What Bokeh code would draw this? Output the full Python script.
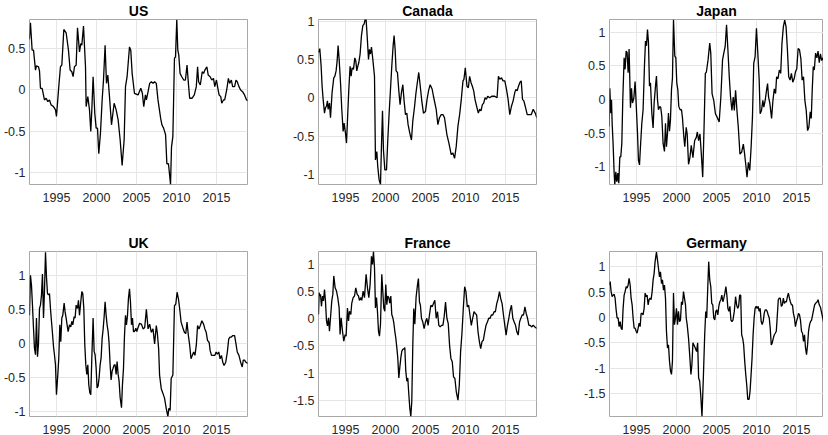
from bokeh.plotting import figure
from bokeh.layouts import column, row
from bokeh.models import FixedTicker, Range1d
from bokeh.embed import file_html
from bokeh.resources import INLINE

# ---------------- data (year, value) ----------------
us = [(1991.62,0.61),(1991.75,0.81),(1991.96,0.48),(1992.13,0.48),(1992.38,0.24),(1992.5,0.29),(1992.75,0.28),(1992.88,0.23),
      (1993.0,0.02),(1993.21,0.02),(1993.5,-0.12),(1993.71,-0.10),(1993.92,-0.14),(1994.13,-0.12),(1994.33,-0.18),(1994.63,-0.20),
      (1994.88,-0.24),(1995.0,-0.32),(1995.29,0.04),(1995.5,0.28),(1995.67,0.30),(1995.92,0.73),(1996.21,0.69),(1996.5,0.48),
      (1996.71,0.24),(1996.92,0.22),(1997.08,0.16),(1997.25,0.28),(1997.46,0.30),(1997.63,0.75),(1997.88,0.46),(1998.04,0.56),
      (1998.17,0.54),(1998.38,0.77),(1998.63,0.28),(1998.71,-0.20),(1998.92,-0.08),(1999.13,-0.24),(1999.29,-0.50),(1999.42,-0.24),
      (1999.58,0.16),(1999.79,-0.28),(1999.96,-0.46),(2000.13,-0.46),(2000.29,-0.77),(2000.5,-0.52),(2000.71,-0.12),(2000.88,0.12),
      (2001.08,0.54),(2001.25,0.08),(2001.42,0.18),(2001.63,-0.08),(2001.88,-0.42),(2002.21,-0.16),(2002.46,-0.24),(2002.71,-0.36),
      (2002.96,-0.60),(2003.21,-0.91),(2003.46,-0.60),(2003.63,0.04),(2003.83,0.16),(2004.13,0.52),(2004.29,0.48),(2004.46,0.20),
      (2004.75,-0.04),(2005.2,-0.06),(2005.54,0.02),(2005.74,-0.04),(2005.91,-0.20),(2006.12,-0.06),(2006.24,-0.12),(2006.45,-0.02),
      (2006.65,0.08),(2006.86,0.10),(2007.07,0.08),(2007.27,0.10),(2007.48,0.08),(2007.69,-0.12),(2008.02,-0.34),(2008.18,-0.42),
      (2008.39,-0.46),(2008.64,-0.54),(2008.8,-0.89),(2009.0,-0.89),(2009.26,-1.14),(2009.38,-0.69),(2009.55,-0.56),(2009.75,0.38),
      (2009.88,0.40),(2010.04,0.85),(2010.17,0.48),(2010.29,0.42),(2010.45,0.20),(2010.66,0.16),(2010.91,0.12),(2011.12,0.12),
      (2011.32,0.30),(2011.49,0.08),(2011.65,-0.10),(2011.94,-0.10),(2012.23,-0.06),(2012.48,0.04),(2012.64,0.28),(2012.77,0.10),
      (2012.98,0.06),(2013.22,0.22),(2013.39,0.20),(2013.55,0.24),(2013.8,0.28),(2013.97,0.18),(2014.21,0.16),(2014.42,0.12),
      (2014.63,0.14),(2014.79,0.04),(2015.0,0.12),(2015.21,0.00),(2015.33,-0.06),(2015.54,-0.08),(2015.66,-0.16),(2015.87,-0.12),
      (2016.03,-0.12),(2016.28,0.00),(2016.49,0.14),(2016.65,0.08),(2016.86,0.12),(2017.02,0.04),(2017.27,0.04),(2017.44,0.12),
      (2017.6,0.10),(2017.81,0.04),(2018.02,0.00),(2018.26,-0.02),(2018.51,-0.06),(2018.76,-0.12),(2018.92,-0.13)]

canada = [(1991.63,0.59),(1991.79,0.64),(1991.96,0.41),(1992.08,0.15),(1992.21,-0.02),(1992.38,-0.20),(1992.5,-0.13),(1992.63,-0.11),
      (1992.75,-0.04),(1992.83,-0.15),(1993.0,-0.07),(1993.13,-0.26),(1993.33,0.07),(1993.54,0.26),(1993.67,0.28),(1993.83,0.35),
      (1993.96,0.48),(1994.08,0.68),(1994.21,0.50),(1994.38,0.20),(1994.54,-0.15),(1994.71,-0.44),(1994.83,-0.33),(1995.0,-0.46),
      (1995.13,-0.59),(1995.29,-0.20),(1995.42,0.11),(1995.58,0.41),(1995.71,0.28),(1995.83,0.39),(1996.0,0.37),(1996.17,0.52),
      (1996.29,0.48),(1996.42,0.35),(1996.54,0.41),(1996.67,0.46),(1996.83,0.57),(1997.0,0.81),(1997.17,0.94),(1997.33,0.96),
      (1997.46,1.02),(1997.58,1.02),(1997.71,0.81),(1997.88,0.50),(1998.0,0.63),(1998.13,0.57),(1998.25,0.66),(1998.42,0.50),
      (1998.63,0.28),(1998.75,-0.81),(1998.92,-0.70),(1999.04,-0.90),(1999.21,-1.07),(1999.38,-1.13),(1999.5,-0.63),(1999.63,-0.17),
      (1999.75,-0.68),(1999.92,-0.94),(2000.13,-0.94),(2000.29,-0.55),(2000.46,-0.20),(2000.63,0.11),(2000.79,0.41),(2000.96,0.68),
      (2001.08,0.81),(2001.21,0.63),(2001.33,0.35),(2001.5,0.33),(2001.67,0.09),(2001.83,-0.09),(2002.0,0.07),(2002.17,0.17),
      (2002.33,-0.04),(2002.5,-0.22),(2002.67,-0.20),(2002.83,-0.35),(2003.04,-0.46),(2003.25,-0.55),(2003.42,-0.30),(2003.63,-0.12),
      (2003.8,0.05),(2003.96,0.18),(2004.16,0.33),(2004.35,0.15),(2004.55,-0.05),(2004.75,-0.20),(2005.0,-0.18),(2005.2,-0.02),
      (2005.4,0.10),(2005.59,0.17),(2005.84,0.11),(2006.0,0.02),(2006.34,-0.15),(2006.55,-0.35),(2006.75,-0.26),(2006.97,-0.22),
      (2007.18,-0.22),(2007.38,-0.26),(2007.68,-0.48),(2007.93,-0.59),(2008.22,-0.74),(2008.43,-0.72),(2008.64,-0.79),(2008.85,-0.63),
      (2009.06,-0.37),(2009.27,-0.22),(2009.48,-0.02),(2009.69,0.22),(2009.81,0.24),(2009.98,0.39),(2010.19,0.15),(2010.36,0.13),
      (2010.52,0.28),(2010.69,0.20),(2010.86,0.15),(2011.03,0.09),(2011.19,-0.02),(2011.44,-0.13),(2011.61,-0.20),(2011.78,-0.15),
      (2011.95,-0.17),(2012.11,-0.09),(2012.28,-0.07),(2012.45,0.0),(2012.62,-0.02),(2012.78,0.02),(2013.03,0.0),(2013.28,0.02),
      (2013.66,0.02),(2013.95,0.0),(2014.12,0.28),(2014.29,0.24),(2014.5,0.26),(2014.7,0.22),(2014.92,0.22),(2015.13,0.11),
      (2015.33,-0.02),(2015.54,-0.22),(2015.75,-0.11),(2015.96,-0.04),(2016.17,0.07),(2016.3,0.11),(2016.46,0.09),(2016.63,0.15),
      (2016.8,0.20),(2016.97,0.22),(2017.13,-0.02),(2017.3,-0.04),(2017.47,-0.11),(2017.72,-0.22),(2017.97,-0.22),(2018.22,-0.22),
      (2018.47,-0.15),(2018.72,-0.20),(2018.92,-0.26)]

japan = [(1991.58,-0.40),(1991.67,0.17),(1991.79,-0.20),(1991.88,0.0),(1991.96,-0.35),(1992.08,-0.65),(1992.21,-1.09),(1992.29,-1.26),
      (1992.42,-1.07),(1992.54,-1.22),(1992.67,-1.09),(1992.79,-1.24),(1992.92,-0.85),(1993.04,-0.85),(1993.17,-0.65),(1993.29,0.0),
      (1993.46,0.62),(1993.58,0.45),(1993.71,0.72),(1993.83,0.70),(1993.96,0.40),(1994.08,0.75),(1994.25,-0.12),(1994.38,0.17),
      (1994.5,-0.05),(1994.67,0.02),(1994.83,0.27),(1994.96,-0.05),(1995.13,-0.50),(1995.25,-0.90),(1995.38,-0.97),(1995.5,-0.70),
      (1995.67,-0.35),(1995.83,-0.15),(1996.0,0.50),(1996.13,0.87),(1996.25,0.80),(1996.38,1.04),(1996.5,0.85),(1996.63,0.20),
      (1996.75,0.25),(1996.92,-0.20),(1997.08,-0.42),(1997.21,-0.05),(1997.38,0.20),(1997.5,0.35),(1997.63,0.0),(1997.75,-0.15),
      (1997.92,-0.10),(1998.04,-0.12),(1998.17,-0.25),(1998.33,-0.65),(1998.5,-0.77),(1998.63,-0.35),(1998.75,-0.70),(1998.88,-0.50),
      (1999.0,-0.20),(1999.13,-0.47),(1999.25,-0.30),(1999.38,0.15),(1999.5,0.32),(1999.63,1.19),(1999.79,0.65),(1999.92,0.62),
      (2000.04,0.25),(2000.17,0.15),(2000.29,-0.10),(2000.46,-0.15),(2000.63,-0.15),(2000.75,-0.27),(2000.92,-0.55),(2001.04,-0.70),
      (2001.22,-0.41),(2001.34,-0.51),(2001.51,-0.96),(2001.68,-0.86),(2001.85,-0.68),(2002.06,-0.86),(2002.27,-0.61),(2002.48,-0.56),
      (2002.61,-0.48),(2002.77,-0.61),(2002.94,-0.51),(2003.11,-0.81),(2003.28,-1.15),(2003.45,-0.41),(2003.61,0.39),(2003.74,0.41),
      (2003.95,0.59),(2004.16,0.84),(2004.29,0.69),(2004.45,0.09),(2004.66,-0.01),(2004.87,-0.21),(2005.08,-0.26),(2005.34,-0.33),
      (2005.55,0.04),(2005.76,0.59),(2005.92,0.69),(2006.09,0.79),(2006.26,1.11),(2006.43,0.74),(2006.6,0.34),(2006.76,0.04),
      (2006.93,-0.16),(2007.1,0.04),(2007.23,-0.16),(2007.39,0.14),(2007.56,-0.16),(2007.73,-0.41),(2007.94,-0.81),(2008.15,-0.78),
      (2008.36,-0.66),(2008.49,-0.78),(2008.66,-0.96),(2008.82,-1.15),(2008.99,-0.93),(2009.16,-1.05),(2009.33,-0.71),(2009.5,-0.26),
      (2009.66,0.54),(2009.83,0.64),(2010.0,1.06),(2010.17,0.69),(2010.34,0.29),(2010.46,-0.21),(2010.63,-0.16),(2010.8,-0.01),
      (2010.92,-0.11),(2011.09,-0.01),(2011.26,0.14),(2011.39,0.24),(2011.51,0.04),(2011.68,-0.06),(2011.89,-0.28),(2012.06,-0.01),
      (2012.23,0.16),(2012.39,0.09),(2012.52,0.34),(2012.69,0.31),(2012.86,0.44),(2013.03,0.39),(2013.19,0.84),(2013.36,1.08),
      (2013.53,1.18),(2013.7,1.08),(2013.87,0.74),(2014.03,0.34),(2014.2,0.29),(2014.37,0.39),(2014.54,0.26),(2014.71,0.31),
      (2014.87,0.41),(2015.04,0.46),(2015.21,0.76),(2015.38,0.74),(2015.55,0.61),(2015.71,0.29),(2015.88,0.34),(2016.05,-0.01),
      (2016.22,-0.16),(2016.39,-0.46),(2016.55,-0.41),(2016.72,-0.18),(2016.85,-0.28),(2016.97,0.14),(2017.1,0.49),(2017.23,0.44),
      (2017.39,0.69),(2017.55,0.62),(2017.7,0.72),(2017.85,0.55),(2018.0,0.68),(2018.15,0.58),(2018.3,0.62),(2018.5,0.55),
      (2018.92,0.55)]

uk = [(1991.63,0.41),(1991.75,1.0),(1991.88,0.85),(1992.0,0.56),(1992.13,0.22),(1992.25,-0.07),(1992.38,-0.17),(1992.5,0.37),
      (1992.63,-0.20),(1992.75,-0.02),(1992.88,0.51),(1993.0,0.56),(1993.13,0.71),(1993.25,1.02),(1993.38,0.37),(1993.5,0.76),
      (1993.63,1.34),(1993.75,0.98),(1993.88,0.73),(1994.0,0.71),(1994.13,0.73),(1994.25,0.51),(1994.38,0.32),(1994.5,0.15),
      (1994.63,-0.05),(1994.75,-0.17),(1994.88,-0.32),(1995.0,-0.76),(1995.17,-0.46),(1995.29,-0.22),(1995.42,0.27),(1995.54,0.02),
      (1995.67,0.37),(1995.79,0.41),(1995.96,0.59),(1996.08,0.46),(1996.21,0.37),(1996.33,0.27),(1996.46,0.17),(1996.63,0.27),
      (1996.79,0.24),(1996.92,0.32),(1997.04,0.27),(1997.21,0.39),(1997.33,0.37),(1997.46,0.56),(1997.63,0.51),(1997.75,0.63),
      (1997.88,0.41),(1998.04,0.61),(1998.17,0.76),(1998.29,0.73),(1998.42,0.51),(1998.54,-0.02),(1998.67,-0.32),(1998.79,-0.46),
      (1998.92,-0.32),(1999.04,-0.61),(1999.17,-0.73),(1999.29,-0.76),(1999.42,-0.22),(1999.58,0.37),(1999.71,-0.12),(1999.83,-0.17),
      (1999.96,-0.37),(2000.08,-0.66),(2000.21,-0.63),(2000.33,-0.51),(2000.46,-0.32),(2000.58,-0.22),(2000.71,0.07),(2000.83,0.20),
      (2000.96,0.39),(2001.08,0.61),(2001.21,0.41),(2001.33,0.27),(2001.46,0.17),(2001.58,0.0),(2001.71,-0.32),(2001.83,-0.54),
      (2001.96,-0.41),(2002.08,-0.37),(2002.21,-0.32),(2002.33,-0.32),(2002.46,-0.46),(2002.58,-0.27),(2002.71,-0.46),(2002.83,-0.56),
      (2002.96,-0.80),(2003.13,-0.95),(2003.25,-0.61),(2003.38,-0.37),(2003.5,0.10),(2003.63,0.41),(2003.75,0.27),(2003.88,0.41),
      (2004.0,0.66),(2004.13,0.80),(2004.25,0.61),(2004.38,0.27),(2004.5,0.37),(2004.63,0.17),(2004.75,0.17),(2004.92,0.22),
      (2005.04,0.17),(2005.17,0.22),(2005.38,0.29),(2005.62,0.28),(2005.83,0.21),(2006.03,0.23),(2006.24,0.50),(2006.45,0.21),
      (2006.65,0.28),(2006.86,0.16),(2007.07,0.21),(2007.27,-0.01),(2007.48,0.26),(2007.6,0.16),(2007.77,-0.08),(2007.89,-0.47),
      (2008.1,-0.67),(2008.31,-0.74),(2008.51,-0.81),(2008.72,-0.96),(2008.93,-1.08),(2009.05,-0.96),(2009.21,-0.99),(2009.34,-0.52),
      (2009.55,-0.47),(2009.75,0.55),(2009.92,0.58),(2010.08,0.75),(2010.25,0.65),(2010.41,0.50),(2010.58,0.31),(2010.79,0.23),
      (2010.99,0.16),(2011.16,0.14),(2011.32,0.31),(2011.49,0.11),(2011.65,-0.03),(2011.82,-0.23),(2011.98,-0.18),(2012.15,-0.13),
      (2012.31,-0.18),(2012.48,-0.03),(2012.64,0.26),(2012.81,0.21),(2012.98,0.26),(2013.18,0.33),(2013.39,0.28),(2013.55,0.21),
      (2013.72,0.16),(2013.88,0.04),(2014.09,0.01),(2014.21,-0.11),(2014.38,-0.18),(2014.63,-0.18),(2014.79,-0.18),(2014.96,-0.13),
      (2015.12,-0.16),(2015.29,-0.13),(2015.45,-0.23),(2015.62,-0.18),(2015.79,-0.28),(2015.95,-0.33),(2016.16,-0.28),(2016.36,-0.13),
      (2016.53,0.06),(2016.69,0.09),(2016.86,0.09),(2017.02,0.11),(2017.27,0.11),(2017.44,-0.01),(2017.6,-0.13),(2017.81,-0.18),
      (2018.02,-0.28),(2018.22,-0.35),(2018.35,-0.25),(2018.51,-0.25),(2018.68,-0.28),(2018.92,-0.30)]

france = [(1991.63,0.08),(1991.71,0.48),(1991.79,0.42),(1991.88,0.45),(1992.0,0.23),(1992.13,0.42),(1992.25,0.33),(1992.38,0.54),
      (1992.5,0.33),(1992.63,-0.04),(1992.75,-0.13),(1992.88,0.02),(1993.0,-0.23),(1993.13,0.02),(1993.29,0.33),(1993.42,0.45),
      (1993.54,0.79),(1993.71,0.57),(1993.88,0.51),(1994.04,0.39),(1994.21,0.20),(1994.33,-0.29),(1994.46,0.02),(1994.63,-0.23),
      (1994.79,-0.41),(1994.96,-0.29),(1995.08,-0.32),(1995.25,0.20),(1995.38,-0.04),(1995.5,0.14),(1995.67,0.08),(1995.79,0.29),
      (1995.96,0.39),(1996.13,0.42),(1996.29,0.57),(1996.46,0.45),(1996.63,0.42),(1996.75,0.34),(1996.92,0.39),(1997.04,0.34),
      (1997.21,0.51),(1997.38,0.39),(1997.58,0.82),(1997.75,0.57),(1997.92,0.39),(1998.08,0.63),(1998.25,1.15),(1998.38,1.0),
      (1998.5,1.24),(1998.63,0.94),(1998.75,0.20),(1998.88,0.39),(1999.0,0.14),(1999.13,-0.23),(1999.25,-0.32),(1999.38,-0.10),
      (1999.54,0.82),(1999.67,0.50),(1999.79,0.20),(1999.92,0.14),(2000.04,0.63),(2000.17,0.26),(2000.29,0.42),(2000.42,0.39),
      (2000.54,0.29),(2000.67,0.42),(2000.79,0.08),(2000.92,0.02),(2001.04,-0.07),(2001.17,-0.23),(2001.29,-0.35),(2001.42,-0.53),
      (2001.54,-0.72),(2001.67,-1.09),(2001.79,-0.90),(2001.92,-0.72),(2002.04,-0.60),(2002.17,-0.56),(2002.29,-0.56),(2002.42,-0.53),
      (2002.54,-0.96),(2002.67,-1.15),(2002.79,-1.09),(2002.92,-1.39),(2003.04,-1.64),(2003.17,-1.80),(2003.29,-1.52),(2003.42,-0.47),
      (2003.54,0.19),(2003.67,-0.10),(2003.83,0.40),(2004.0,0.62),(2004.12,0.74),(2004.25,0.31),(2004.37,0.25),(2004.5,0.01),
      (2004.67,-0.06),(2004.83,-0.18),(2005.0,-0.06),(2005.17,0.01),(2005.33,-0.12),(2005.5,0.07),(2005.67,0.25),(2005.84,0.22),
      (2006.0,0.28),(2006.17,0.34),(2006.34,0.01),(2006.51,0.13),(2006.67,-0.12),(2006.84,-0.15),(2007.01,-0.12),(2007.18,-0.12),
      (2007.34,0.04),(2007.51,0.31),(2007.68,0.01),(2007.85,-0.09),(2008.01,-0.48),(2008.18,-0.73),(2008.35,-0.79),(2008.51,-1.07),
      (2008.68,-1.10),(2008.85,-1.34),(2009.06,-1.50),(2009.23,-1.22),(2009.39,-0.61),(2009.56,-0.27),(2009.73,0.19),(2009.9,0.59),
      (2010.06,0.50),(2010.23,0.22),(2010.4,0.25),(2010.56,0.07),(2010.73,-0.12),(2010.9,0.01),(2011.07,0.13),(2011.23,0.10),
      (2011.4,0.07),(2011.57,-0.24),(2011.74,-0.42),(2011.9,-0.55),(2012.07,-0.42),(2012.24,-0.39),(2012.41,-0.24),(2012.57,-0.12),
      (2012.74,-0.06),(2012.91,0.01),(2013.08,0.01),(2013.24,0.07),(2013.41,0.07),(2013.58,0.13),(2013.74,0.13),(2013.91,0.28),
      (2014.08,0.37),(2014.25,0.50),(2014.41,0.37),(2014.58,0.28),(2014.75,0.07),(2014.92,-0.12),(2015.08,-0.30),(2015.25,-0.12),
      (2015.42,0.01),(2015.59,0.16),(2015.75,0.25),(2015.92,0.01),(2016.09,-0.06),(2016.26,-0.12),(2016.42,-0.24),(2016.59,-0.30),
      (2016.76,-0.06),(2016.92,0.01),(2017.09,0.07),(2017.26,0.07),(2017.43,0.22),(2017.59,0.10),(2017.76,0.01),(2017.93,-0.12),
      (2018.1,-0.12),(2018.26,-0.15),(2018.47,-0.12),(2018.68,-0.15),(2018.92,-0.18)]

germany = [(1991.58,0.64),(1991.71,0.71),(1991.83,0.51),(1991.96,0.41),(1992.08,0.44),(1992.21,0.46),(1992.33,0.38),(1992.46,0.15),
      (1992.58,-0.01),(1992.71,-0.01),(1992.83,-0.18),(1992.96,-0.08),(1993.08,-0.21),(1993.21,-0.24),(1993.33,0.18),(1993.46,0.44),
      (1993.58,0.51),(1993.71,0.61),(1993.83,0.58),(1993.96,0.64),(1994.08,0.77),(1994.21,0.64),(1994.33,0.38),(1994.46,0.25),
      (1994.58,-0.01),(1994.71,-0.21),(1994.83,-0.21),(1994.96,-0.27),(1995.08,-0.31),(1995.21,-0.21),(1995.33,-0.11),(1995.46,-0.18),
      (1995.58,0.08),(1995.71,0.08),(1995.83,0.05),(1995.96,0.18),(1996.08,0.48),(1996.21,0.41),(1996.33,0.44),(1996.46,0.25),
      (1996.58,0.35),(1996.71,0.38),(1996.83,0.35),(1996.96,0.51),(1997.08,0.74),(1997.21,0.87),(1997.33,1.10),(1997.5,1.29),
      (1997.63,1.13),(1997.75,0.97),(1997.88,0.80),(1998.0,0.90),(1998.13,0.67),(1998.25,0.74),(1998.38,0.54),(1998.5,0.64),
      (1998.63,0.38),(1998.75,-0.27),(1998.88,-0.60),(1999.0,-0.54),(1999.13,-0.86),(1999.25,-1.05),(1999.38,-1.12),(1999.5,-0.86),
      (1999.63,0.48),(1999.75,-0.14),(1999.88,-0.01),(2000.0,0.18),(2000.13,-0.14),(2000.25,0.12),(2000.38,-0.08),(2000.5,-0.05),
      (2000.63,0.31),(2000.75,0.25),(2000.88,0.51),(2001.0,0.38),(2001.13,0.25),(2001.22,-0.01),(2001.34,-0.14),(2001.51,-0.41),
      (2001.68,-0.80),(2001.81,-1.12),(2001.93,-0.93),(2002.06,-0.50),(2002.18,-0.54),(2002.35,-0.60),(2002.52,-0.67),(2002.65,-0.50),
      (2002.77,-1.19),(2002.9,-1.25),(2003.03,-1.52),(2003.19,-1.95),(2003.36,-1.19),(2003.53,-0.34),(2003.66,0.12),(2003.78,-0.01),
      (2003.91,0.58),(2004.03,1.10),(2004.16,0.74),(2004.29,0.61),(2004.41,0.28),(2004.54,0.25),(2004.66,-0.01),(2004.79,-0.05),
      (2004.92,0.12),(2005.04,0.15),(2005.17,0.05),(2005.29,0.22),(2005.42,0.31),(2005.55,0.35),(2005.67,0.44),(2005.8,0.31),
      (2005.92,0.38),(2006.05,0.48),(2006.18,0.61),(2006.3,0.44),(2006.43,0.18),(2006.55,0.12),(2006.68,0.22),(2006.81,-0.05),
      (2006.93,-0.08),(2007.06,-0.05),(2007.23,0.12),(2007.39,0.41),(2007.52,0.25),(2007.65,0.18),(2007.77,0.22),(2007.9,0.44),
      (2008.03,0.44),(2008.15,-0.34),(2008.28,-0.41),(2008.4,-0.54),(2008.53,-0.86),(2008.66,-1.12),(2008.78,-1.32),(2008.91,-1.61),
      (2009.08,-1.61),(2009.2,-1.45),(2009.33,-1.12),(2009.45,-0.80),(2009.58,-0.34),(2009.71,-0.01),(2009.83,0.18),(2009.96,0.22),
      (2010.08,0.18),(2010.21,0.22),(2010.34,0.12),(2010.46,0.18),(2010.59,-0.08),(2010.71,-0.14),(2010.84,-0.08),(2010.97,0.08),
      (2011.09,0.15),(2011.22,0.15),(2011.34,0.12),(2011.47,0.05),(2011.6,-0.01),(2011.72,-0.21),(2011.85,-0.54),(2011.97,-0.50),
      (2012.1,-0.41),(2012.23,-0.34),(2012.35,-0.31),(2012.48,-0.27),(2012.61,0.05),(2012.73,0.35),(2012.86,0.38),(2012.98,0.38),
      (2013.11,0.22),(2013.24,0.25),(2013.36,0.38),(2013.49,0.28),(2013.61,0.31),(2013.74,0.31),(2013.87,0.41),(2013.99,0.48),
      (2014.12,0.38),(2014.24,0.31),(2014.37,0.25),(2014.5,0.25),(2014.62,0.08),(2014.75,-0.01),(2014.87,-0.18),(2015.0,-0.08),
      (2015.13,-0.01),(2015.25,0.08),(2015.38,0.05),(2015.5,-0.05),(2015.63,-0.27),(2015.76,-0.31),(2015.88,-0.47),(2016.01,-0.34),
      (2016.13,-0.60),(2016.26,-0.73),(2016.39,-0.54),(2016.51,-0.27),(2016.64,-0.14),(2016.76,-0.08),(2016.89,-0.05),(2017.02,0.05),
      (2017.14,0.15),(2017.27,0.25),(2017.39,0.28),(2017.55,0.30),(2017.7,0.35),(2017.85,0.25),(2018.0,0.20),(2018.2,0.05),
      (2018.4,-0.10),(2018.6,-0.20),(2018.92,-0.20)]

titles = ["US", "Canada", "Japan", "UK", "France", "Germany"]
series = [us, canada, japan, uk, france, germany]
y_limits = [(-1.14, 0.85), (-1.13, 1.02), (-1.26, 1.19), (-1.08, 1.35), (-1.80, 1.24), (-1.95, 1.30)]
x_start = 1991.63
x_end_full = 2018.88
x_end_cut = 2018.38
x_ticks = [1995, 2000, 2005, 2010, 2015]
y_ticks = [-1.5, -1, -0.5, 0, 0.5, 1]
y_tick_labels = ["-1.5", "-1", "-0.5", "0", "0.5", "1"]

FONT = "Liberation Sans"


def make_panel(title, data, ylim, col, bottom_row):
    xs = [d[0] for d in data]
    ys = [d[1] for d in data]
    if col == 0:
        bl, br, fw, xend = 26, 36, 218, x_end_full
    elif col == 1:
        bl, br, fw, xend = 35, 38, 218, x_end_full
    else:
        bl, br, fw, xend = 35, 0, 214, x_end_cut
    p = figure(frame_width=fw, frame_height=165,
               x_range=Range1d(x_start, xend), y_range=Range1d(*ylim),
               output_backend="svg", toolbar_location=None,
               min_border_left=bl, min_border_right=br, min_border_top=0,
               min_border_bottom=(0 if bottom_row else 48),
               background_fill_color="white", border_fill_color="white")
    p.title.text = title
    p.title.align = "center"
    p.title.text_font = FONT
    p.title.text_font_size = "14px"
    p.title.text_font_style = "bold"
    p.title.text_color = "#000000"
    p.title.standoff = 1

    p.line(xs, ys, line_color="#000000", line_width=1.3)

    p.xaxis.ticker = FixedTicker(ticks=x_ticks)
    p.yaxis.ticker = FixedTicker(ticks=y_ticks)
    p.yaxis.major_label_overrides = dict(zip(y_ticks, y_tick_labels))
    for ax in (p.xaxis, p.yaxis):
        ax.axis_line_color = None
        ax.major_tick_line_color = None
        ax.minor_tick_line_color = None
        ax.major_tick_out = 0
        ax.major_tick_in = 0
        ax.major_label_text_font = FONT
        ax.major_label_text_font_size = "12.5px"
        ax.major_label_text_color = "#262626"
    p.xaxis.major_label_standoff = 8
    p.yaxis.major_label_standoff = 4
    p.xgrid.grid_line_color = "#e6e6e6"
    p.ygrid.grid_line_color = "#e6e6e6"
    p.outline_line_color = "#a8a8a8"
    p.outline_line_width = 1
    return p


panels = [make_panel(t, s, yl, i % 3, i >= 3) for i, (t, s, yl) in enumerate(zip(titles, series, y_limits))]
layout = column(row(*panels[:3]), row(*panels[3:]))

open("out.html", "w").write(file_html(layout, INLINE))
